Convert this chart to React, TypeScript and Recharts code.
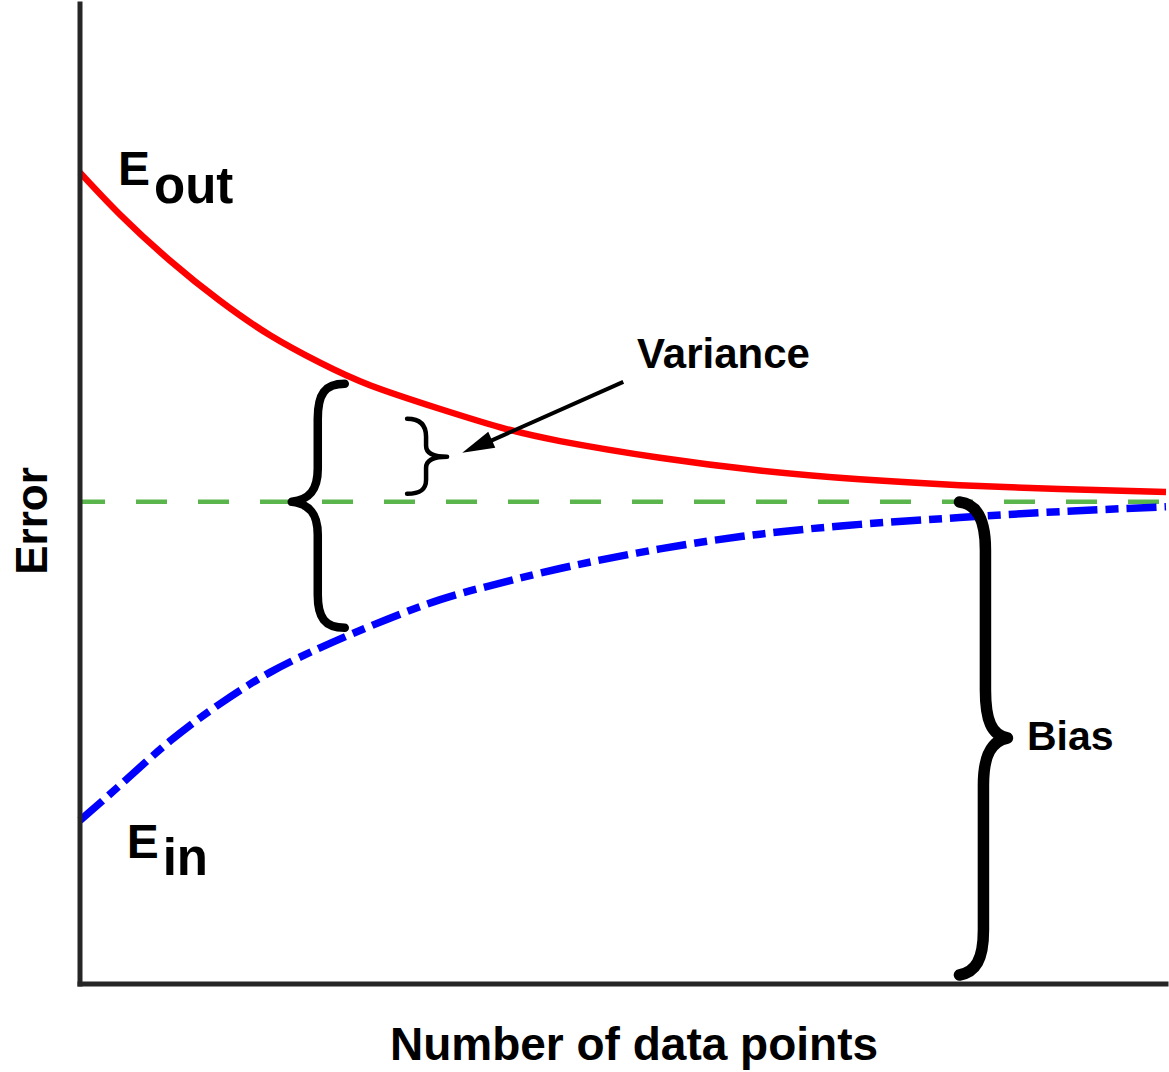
import { Line, LineChart, ReferenceDot, ReferenceLine, XAxis, YAxis } from "recharts";

// x is "number of data points" (0-100), y is error (0-100)
const nPoints = [0, 3.7, 8.3, 12.9, 17.5, 22.1, 26.7, 33.1, 38.7, 44.2, 53.4, 62.6, 71.8, 81.0, 90.2, 100];
const eOut = [82.8, 78.5, 73.8, 69.7, 66.2, 63.4, 61.1, 58.7, 56.8, 55.4, 53.7, 52.4, 51.5, 50.9, 50.5, 50.2];
const eIn = [16.7, 20.3, 24.8, 28.6, 31.8, 34.3, 36.5, 39.2, 40.9, 42.4, 44.4, 45.9, 46.9, 47.6, 48.2, 48.7];
const bestError = 49.2;

const rows = nPoints.map((n, i) => ({ n, eOut: eOut[i], eIn: eIn[i] }));

const FONT = "'Liberation Sans', Arial, Helvetica, sans-serif";
const AXIS = "#262626";

// annotation anchors, in data units
const varianceBrace = { x: 19.5, y: bestError };
const smallBrace = { x: 33.8, y: 53.8 };
const arrowTip = { x: 35.2, y: 54.2 };
const biasBrace = { x: 85.4, y: 25.1 };

const txt = (fs: number) => ({ fontFamily: FONT, fontWeight: 700, fontSize: fs, fill: "#000" });

const Brace = (d: string, w: number) => (p: any) => (
  <path
    transform={`translate(${p.cx},${p.cy})`}
    d={d}
    fill="none"
    stroke="#000"
    strokeWidth={w}
    strokeLinecap="round"
    strokeLinejoin="round"
  />
);

const Sub = (main: string, sub: string, dy: number) => (p: any) => (
  <text x={p.cx} y={p.cy} {...txt(48)}>
    {main}
    <tspan dx={4} dy={dy} fontSize={51}>{sub}</tspan>
  </text>
);

const Word = (s: string, fs: number) => (p: any) => (
  <text x={p.cx} y={p.cy} {...txt(fs)}>{s}</text>
);

const Arrow = (p: any) => (
  <g transform={`translate(${p.cx},${p.cy})`}>
    <line x1={161} y1={-71} x2={24} y2={-10} stroke="#000" strokeWidth={4} />
    <polygon points="0,0 33,-5 26,-21" fill="#000" />
  </g>
);

export default function App() {
  return (
    <div style={{ position: "absolute", left: 0, top: 0, width: 1169, height: 1072, background: "#fff" }}>
      <LineChart width={1169} height={1072} data={rows} margin={{ top: 4, right: 3, bottom: 0, left: 0 }}>
        <XAxis
          dataKey="n"
          type="number"
          domain={[0, 100]}
          tick={false}
          tickLine={false}
          height={88}
          axisLine={{ stroke: AXIS, strokeWidth: 5, strokeLinecap: "square" }}
          label={(props: any) => {
            const vb = props.viewBox || { x: 80, y: 984, width: 1086 };
            return (
              <text x={vb.x + vb.width / 2 + 11} y={vb.y + 76} textAnchor="middle" {...txt(46)}>
                Number of data points
              </text>
            );
          }}
        />
        <YAxis
          type="number"
          domain={[0, 100]}
          tick={false}
          tickLine={false}
          width={80}
          axisLine={{ stroke: AXIS, strokeWidth: 5, strokeLinecap: "square" }}
          label={(props: any) => {
            const vb = props.viewBox || { x: 0, y: 4, height: 980 };
            const cx = vb.x + 47;
            const cy = vb.y + vb.height / 2 + 27;
            return (
              <text x={cx} y={cy} textAnchor="middle" transform={`rotate(-90 ${cx} ${cy})`} {...txt(44)}>
                Error
              </text>
            );
          }}
        />
        <ReferenceLine
          y={bestError}
          stroke="#5ab64c"
          strokeWidth={4.5}
          strokeDasharray="31 31"
          strokeDashoffset={6}
        />
        <Line
          type="natural"
          dataKey="eOut"
          stroke="#ff0000"
          strokeWidth={6.5}
          dot={false}
          isAnimationActive={false}
        />
        <Line
          type="natural"
          dataKey="eIn"
          stroke="#0000ff"
          strokeWidth={7.5}
          strokeDasharray="30 8 13 8"
          dot={false}
          isAnimationActive={false}
        />

        <ReferenceDot x={3.5} y={81.5} shape={Sub("E", "out", 18)} />
        <ReferenceDot x={4.3} y={12.9} shape={Sub("E", "in", 17)} />
        <ReferenceDot x={51.3} y={62.9} shape={Word("Variance", 42)} />
        <ReferenceDot x={87.2} y={23.9} shape={Word("Bias", 41)} />

        <ReferenceDot
          x={varianceBrace.x}
          y={varianceBrace.y}
          shape={Brace(
            "M 53 -118 C 33 -118 26 -108 26 -83 L 26 -33 C 26 -12 18 -2 0 0 C 18 2 26 12 26 33 L 26 93 C 26 116 33 126 53 126",
            8.5
          )}
        />
        <ReferenceDot
          x={smallBrace.x}
          y={smallBrace.y}
          shape={Brace(
            "M -40 -38 C -27 -38 -21 -32 -21 -20 L -21 -11 C -21 -4 -15 0 0 0 C -15 0 -21 4 -21 11 L -21 23 C -21 33 -27 37 -40 37",
            4.5
          )}
        />
        <ReferenceDot
          x={biasBrace.x}
          y={biasBrace.y}
          shape={Brace(
            "M -48 -236 C -30 -234 -22 -218 -22 -188 L -22 -48 C -22 -18 -16 -3 0 0 C -16 3 -24 17 -24 47 L -24 192 C -24 222 -32 234 -48 237",
            11.5
          )}
        />
        <ReferenceDot x={arrowTip.x} y={arrowTip.y} shape={Arrow} />
      </LineChart>
    </div>
  );
}
